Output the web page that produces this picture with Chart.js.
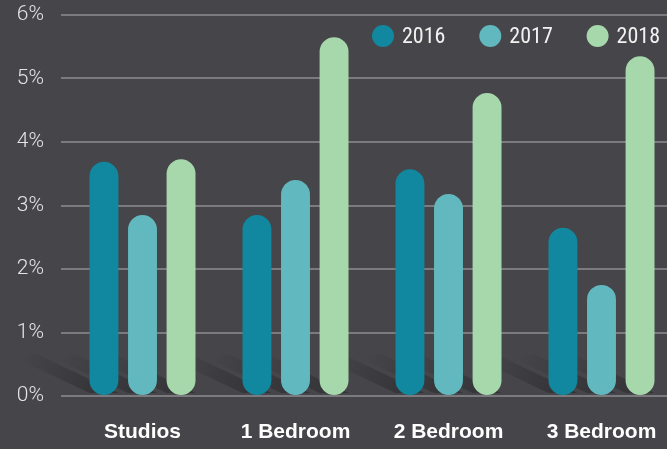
<!DOCTYPE html>
<html>
<head>
<meta charset="utf-8">
<script src="https://cdn.jsdelivr.net/npm/chart.js@4/dist/chart.umd.min.js"></script>
<style>
html, body { margin: 0; padding: 0; background: #464549; overflow: hidden; }
#wrap { width: 678px; height: 449px; position: relative; }
</style>
</head>
<body>
<div id="wrap"><canvas id="rentChart"></canvas></div>

<script>
// data
var categories = ["Studios", "1 Bedroom", "2 Bedroom", "3 Bedroom"];
var years = ["2016", "2017", "2018"];
var values2016 = [3.69, 2.85, 3.57, 2.65];
var values2017 = [2.85, 3.40, 3.18, 1.75];
var values2018 = [3.73, 5.65, 4.77, 5.35];
var yTicks = [0, 1, 2, 3, 4, 5, 6];
var colors = ["#11889f", "#62b8bf", "#a6d8ac"];

var series = [values2016, values2017, values2018];
var datasets = [];
for (i = 0; i < years.length; i++) {
	datasets.push({
		label: years[i],
		data: series[i],
		backgroundColor: colors[i],
		borderWidth: 0,
		borderSkipped: false,
		borderRadius: 30,
		barPercentage: 0.75,
		categoryPercentage: 0.756
	});
}

// slanted floor shadows behind each bar
var floorShadow = {
	id: 'floorShadow',
	beforeDatasetsDraw: function(chart) {
		var ctx = chart.ctx;
		ctx.save();
		for (d = 0; d < chart.data.datasets.length; d++) {
			var bars = chart.getDatasetMeta(d).data;
			for (j = 0; j < bars.length; j++) {
				var b = bars[j];
				var half = b.width / 2;
				var base = b.base;
				var dx = 80, dy = 38;
				var grad = ctx.createLinearGradient(b.x, base, b.x - dx, base - dy);
				grad.addColorStop(0, 'rgba(25,25,30,0.4)');
				grad.addColorStop(1, 'rgba(25,25,30,0)');
				ctx.fillStyle = grad;
				ctx.beginPath();
				ctx.moveTo(b.x + half, base - 2);
				ctx.lineTo(b.x + half - dx, base - dy - 2);
				ctx.lineTo(b.x - half - dx, base - dy - 2);
				ctx.lineTo(b.x - half, base - 2);
				ctx.closePath();
				ctx.fill();
			}
		}
		ctx.restore();
	}
};

// round dot legend in the top right corner
var dotLegend = {
	id: 'dotLegend',
	afterDraw: function(chart) {
		var ctx = chart.ctx;
		ctx.save();
		ctx.font = '22px "Liberation Sans Narrow", "Roboto Condensed", "Liberation Sans", sans-serif';
		ctx.textBaseline = 'middle';
		ctx.textAlign = 'left';
		var x = 383, y = 36;
		for (d = 0; d < chart.data.datasets.length; d++) {
			var ds = chart.data.datasets[d];
			ctx.fillStyle = ds.backgroundColor;
			ctx.beginPath();
			ctx.arc(x, y, 11, 0, Math.PI * 2);
			ctx.fill();
			ctx.fillStyle = '#f2f2f2';
			ctx.fillText(ds.label, x + 19, y + 1);
			x += 107.3;
		}
		ctx.restore();
	}
};

var ctx = document.getElementById("rentChart").getContext('2d');
var myChart = new Chart(ctx, {
	type: 'bar',
	data: {
		labels: categories,
		datasets: datasets
	},
	plugins: [floorShadow, dotLegend],
	options: {
		responsive: true,
		maintainAspectRatio: false,
		animation: false,
		layout: { padding: { top: 15, right: 0, left: 0, bottom: 0 } },
		plugins: {
			legend: { display: false },
			tooltip: { enabled: false }
		},
		scales: {
			x: {
				grid: { display: false },
				border: { display: false },
				ticks: {
					color: '#ffffff',
					padding: 16,
					font: { family: '"Liberation Sans", Arial, sans-serif', size: 21, weight: 'bold' }
				},
				afterFit: function(scale) {
					scale.height = 53;
					scale.paddingLeft = 0;
					scale.paddingRight = 0;
				}
			},
			y: {
				min: 0,
				max: 6,
				afterBuildTicks: function(scale) {
					scale.ticks = yTicks.map(function(v) { return { value: v }; });
				},
				grid: {
					color: '#7b7a7e',
					lineWidth: 2,
					drawTicks: true,
					tickLength: 5,
					tickColor: '#7b7a7e'
				},
				border: { display: false },
				ticks: {
					color: '#e4e4e4',
					padding: 17,
					font: { family: 'Roboto, "Liberation Sans", sans-serif', size: 21, weight: 300 },
					callback: function(v) { return v + '%'; }
				},
				afterFit: function(scale) {
					scale.width = 66;
					scale.paddingTop = 0;
					scale.paddingBottom = 0;
				}
			}
		}
	}
});
</script>
</body>
</html>
